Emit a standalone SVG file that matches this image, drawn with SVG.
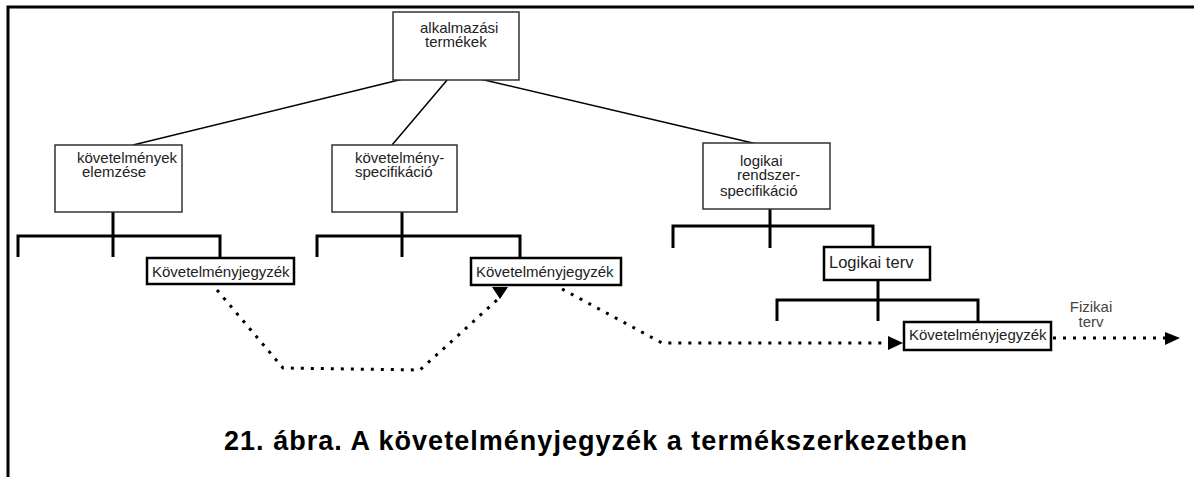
<svg xmlns="http://www.w3.org/2000/svg" width="1194" height="477" viewBox="0 0 1194 477">
<style>
.frame{stroke:#000;stroke-width:3;fill:none}
.node rect{fill:#fff;stroke:#333;stroke-width:1.5}
.kj rect{fill:#fff;stroke:#000;stroke-width:2.5}
.lbl{font-family:"Liberation Sans",Arial,sans-serif;font-size:15px;fill:#222}
.tree{stroke:#000;stroke-width:1.5;fill:none}
.br{stroke:#000;stroke-width:3;fill:none}
.dot{stroke:#000;stroke-width:3;fill:none;stroke-dasharray:3 7}
.title{font-family:"Liberation Sans",Arial,sans-serif;font-weight:bold;font-size:27px;fill:#000}
</style>
<g id="frame">
<path class="frame" d="M8,477 L8,7 L1194,7"/>
</g>
<g id="connectors">
<path class="tree" d="M403,79 L133,145 M448,79 L392,145 M480,79 L757,144"/>
<path class="br" d="M113,212 L113,236 M18,257 L18,236 L220,236 L220,258 M113,236 L113,257"/>
<path class="br" d="M402,212 L402,236 M317,257 L317,236 L520,236 L520,258 M402,236 L402,257"/>
<path class="br" d="M770,209 L770,226 M673,248 L673,226 L873,226 L873,247 M770,226 L770,248"/>
<path class="br" d="M878,279 L878,300 M777,321 L777,300 L978,300 L978,322 M878,300 L878,321"/>
<path class="dot" d="M217,290 L283,368 L420,370 L497,300"/>
<polygon points="492,287 508,287 500,299" fill="#000"/>
<path class="dot" d="M562,289 L662,343 L888,343"/>
<polygon points="888,336 888,350 903,343" fill="#000"/>
<path class="dot" d="M1053,338 L1165,338"/>
<polygon points="1165,332 1165,345 1180,338" fill="#000"/>
</g>
<g id="n-alkalmazasi" class="node">
<rect x="393" y="12" width="126" height="68"/>
<text class="lbl" x="420" y="33">alkalmazási</text>
<text class="lbl" x="425" y="47">termékek</text>
</g>
<g id="n-kovelemzes" class="node">
<rect x="55" y="145" width="127" height="67"/>
<text class="lbl" x="77" y="163">követelmények</text>
<text class="lbl" x="82" y="177">elemzése</text>
</g>
<g id="n-kovspec" class="node">
<rect x="332" y="145" width="125" height="67"/>
<text class="lbl" x="355" y="163">követelmény-</text>
<text class="lbl" x="355" y="177">specifikáció</text>
</g>
<g id="n-logspec" class="node">
<rect x="703" y="143" width="127" height="66"/>
<text class="lbl" x="740" y="166">logikai</text>
<text class="lbl" x="737" y="180">rendszer-</text>
<text class="lbl" x="720" y="196">specifikáció</text>
</g>
<g id="n-kj1" class="kj">
<rect x="147" y="258" width="147" height="26"/>
<text class="lbl" x="152" y="277">Követelményjegyzék</text>
</g>
<g id="n-kj2" class="kj">
<rect x="471" y="258" width="150" height="27"/>
<text class="lbl" x="476" y="277">Követelményjegyzék</text>
</g>
<g id="n-logterv" class="kj">
<rect x="824" y="247" width="106" height="33"/>
<text class="lbl" x="829" y="268" style="font-size:16.5px">Logikai terv</text>
</g>
<g id="n-kj3" class="kj">
<rect x="904" y="322" width="147" height="28"/>
<text class="lbl" x="909" y="340">Követelményjegyzék</text>
</g>
<g id="fizikai-label">
<text class="lbl" x="1091" y="312" text-anchor="middle" style="fill:#444">Fizikai</text>
<text class="lbl" x="1091" y="327" text-anchor="middle" style="fill:#444">terv</text>
</g>
<g id="caption">
<text class="title" x="224" y="450" textLength="743" lengthAdjust="spacing">21. ábra. A követelményjegyzék a termékszerkezetben</text>
</g>
</svg>
